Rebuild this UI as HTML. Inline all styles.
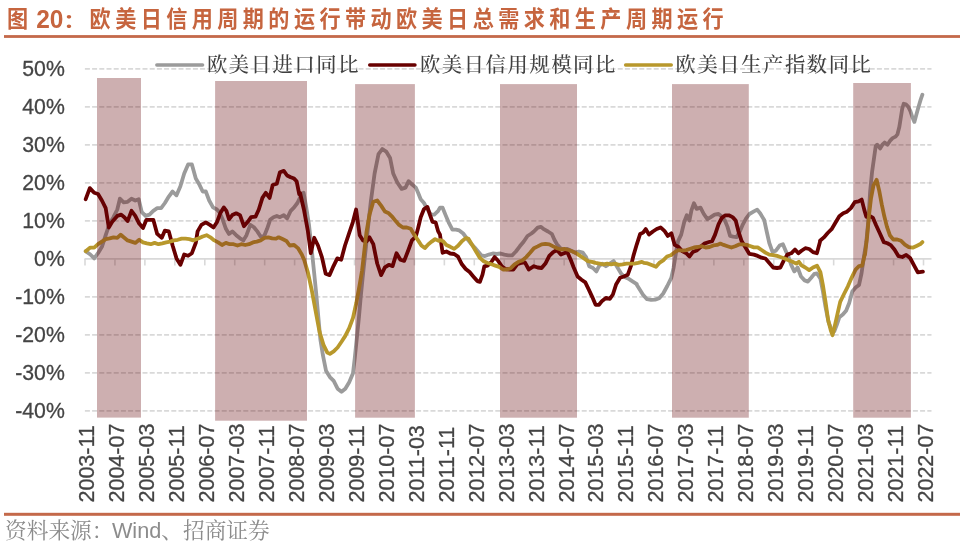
<!DOCTYPE html>
<html><head><meta charset="utf-8"><style>
html,body{margin:0;padding:0;background:#fff;}
body{width:966px;height:544px;overflow:hidden;position:relative;}
svg{position:absolute;left:0;top:0;}
.g{stroke:#d9d9d9;stroke-width:1.7;stroke-dasharray:5 2.2;stroke-dashoffset:-0.4;fill:none}
.ax{stroke:#d9d9d9;stroke-width:1.6;fill:none}
.yl{font-family:"Liberation Sans",Arial,sans-serif;font-size:22.6px;fill:#444;stroke:#444;stroke-width:0.3px;text-anchor:end}
.xl{font-family:"Liberation Sans",Arial,sans-serif;font-size:21.5px;fill:#444;stroke:#444;stroke-width:0.3px}
.bar{fill:rgb(99,5,8);fill-opacity:0.32}
.lgl{stroke-width:3.4;stroke-linecap:round}
.ln{fill:none;stroke-width:3.8;stroke-linejoin:round;stroke-linecap:round}
.lg{font-family:"Liberation Serif","Noto Serif CJK SC",serif;font-size:20.3px;font-weight:500;fill:#404040;letter-spacing:1.6px}
.ttl{font-family:"Liberation Sans","Noto Sans CJK SC",sans-serif;font-weight:bold;fill:#c6653f}
.ttc{}
.src{font-family:"Liberation Sans","Noto Serif CJK SC",serif;font-size:21.7px;fill:#8c8c8c}
</style></head><body>
<svg width="966" height="544" viewBox="0 0 966 544">
<text transform="translate(7,27) scale(0.92,1)" class="ttl ttc" style="font-size:23px">图</text>
<text transform="translate(36.2,27.7) scale(0.94,1)" class="ttl" style="font-size:26px">20</text>
<text transform="translate(63.2,28.25) scale(1,0.82)" class="ttl ttc" style="font-size:23px">：</text>
<text transform="translate(89.6,27) scale(0.92,1)" class="ttl ttc" style="font-size:23px;letter-spacing:4.78px">欧美日信用周期的运行带动欧美日总需求和生产周期运行</text>
<rect x="4" y="35.1" width="956" height="2.8" fill="#c4694a"/>
<line x1="84.5" y1="68.93" x2="931.5" y2="68.93" class="g"/>
<line x1="84.5" y1="106.93" x2="931.5" y2="106.93" class="g"/>
<line x1="84.5" y1="144.92" x2="931.5" y2="144.92" class="g"/>
<line x1="84.5" y1="182.91" x2="931.5" y2="182.91" class="g"/>
<line x1="84.5" y1="220.91" x2="931.5" y2="220.91" class="g"/>
<line x1="84.5" y1="296.89" x2="931.5" y2="296.89" class="g"/>
<line x1="84.5" y1="334.89" x2="931.5" y2="334.89" class="g"/>
<line x1="84.5" y1="372.88" x2="931.5" y2="372.88" class="g"/>
<line x1="84.5" y1="410.87" x2="931.5" y2="410.87" class="g"/>
<line x1="84.5" y1="258.90" x2="931.5" y2="258.90" class="ax"/>
<line x1="85.00" y1="258.90" x2="85.00" y2="265.40" class="ax"/>
<line x1="114.95" y1="258.90" x2="114.95" y2="265.40" class="ax"/>
<line x1="144.89" y1="258.90" x2="144.89" y2="265.40" class="ax"/>
<line x1="174.84" y1="258.90" x2="174.84" y2="265.40" class="ax"/>
<line x1="204.79" y1="258.90" x2="204.79" y2="265.40" class="ax"/>
<line x1="234.73" y1="258.90" x2="234.73" y2="265.40" class="ax"/>
<line x1="264.68" y1="258.90" x2="264.68" y2="265.40" class="ax"/>
<line x1="294.62" y1="258.90" x2="294.62" y2="265.40" class="ax"/>
<line x1="324.57" y1="258.90" x2="324.57" y2="265.40" class="ax"/>
<line x1="354.52" y1="258.90" x2="354.52" y2="265.40" class="ax"/>
<line x1="384.46" y1="258.90" x2="384.46" y2="265.40" class="ax"/>
<line x1="414.41" y1="258.90" x2="414.41" y2="265.40" class="ax"/>
<line x1="444.36" y1="258.90" x2="444.36" y2="265.40" class="ax"/>
<line x1="474.30" y1="258.90" x2="474.30" y2="265.40" class="ax"/>
<line x1="504.25" y1="258.90" x2="504.25" y2="265.40" class="ax"/>
<line x1="534.20" y1="258.90" x2="534.20" y2="265.40" class="ax"/>
<line x1="564.14" y1="258.90" x2="564.14" y2="265.40" class="ax"/>
<line x1="594.09" y1="258.90" x2="594.09" y2="265.40" class="ax"/>
<line x1="624.04" y1="258.90" x2="624.04" y2="265.40" class="ax"/>
<line x1="653.98" y1="258.90" x2="653.98" y2="265.40" class="ax"/>
<line x1="683.93" y1="258.90" x2="683.93" y2="265.40" class="ax"/>
<line x1="713.87" y1="258.90" x2="713.87" y2="265.40" class="ax"/>
<line x1="743.82" y1="258.90" x2="743.82" y2="265.40" class="ax"/>
<line x1="773.77" y1="258.90" x2="773.77" y2="265.40" class="ax"/>
<line x1="803.71" y1="258.90" x2="803.71" y2="265.40" class="ax"/>
<line x1="833.66" y1="258.90" x2="833.66" y2="265.40" class="ax"/>
<line x1="863.61" y1="258.90" x2="863.61" y2="265.40" class="ax"/>
<line x1="893.55" y1="258.90" x2="893.55" y2="265.40" class="ax"/>
<line x1="923.50" y1="258.90" x2="923.50" y2="265.40" class="ax"/>

<path d="M85.7,251.2 L90.3,254.5 L94.2,258.4 L98.0,253.2 L101.9,246.8 L105.7,235.2 L109.6,223.6 L113.5,217.2 L117.3,209.5 L119.9,198.7 L123.7,202.3 L127.6,201.8 L131.5,198.7 L135.3,200.5 L138.7,199.2 L141.8,212.1 L145.6,215.9 L149.5,214.6 L153.3,210.8 L157.2,208.2 L161.1,208.2 L164.9,203.0 L168.8,196.6 L172.6,191.5 L176.5,195.3 L180.4,186.3 L184.2,173.5 L188.1,164.4 L191.9,164.4 L195.8,178.6 L198.9,183.7 L202.7,191.5 L205.8,191.5 L209.2,200.5 L213.0,207.4 L216.9,209.5 L219.4,212.1 L222.8,219.8 L225.9,228.8 L229.0,233.9 L232.3,231.4 L236.2,235.2 L240.0,238.3 L243.4,240.4 L246.5,235.2 L250.3,224.9 L253.7,227.0 L257.3,231.4 L260.6,236.5 L264.0,236.5 L267.1,228.8 L270.1,219.8 L273.5,217.2 L276.8,215.9 L279.9,217.2 L283.8,215.1 L287.1,218.5 L290.7,210.8 L294.1,207.4 L297.4,203.0 L300.5,196.6 L303.6,192.8 L306.4,208.2 L309.0,224.9 L311.6,248.1 L314.4,275.4 L316.2,293.5 L318.3,316.6 L320.4,339.8 L322.9,355.2 L326.0,370.7 L329.9,377.1 L333.7,380.9 L337.6,388.7 L341.5,391.8 L345.3,388.7 L349.2,382.2 L353.0,373.2 L354.8,357.8 L356.9,337.2 L359.0,316.6 L360.8,296.0 L362.6,278.0 L366.9,237.8 L370.8,201.8 L374.6,173.5 L378.5,154.2 L382.3,149.0 L386.2,151.6 L390.1,158.0 L393.2,173.5 L397.3,182.5 L401.6,188.9 L405.5,187.6 L408.6,181.2 L411.9,184.3 L415.8,187.6 L418.1,192.8 L420.7,199.2 L424.0,203.0 L427.4,209.5 L431.0,214.6 L434.3,214.6 L438.2,210.8 L440.0,207.7 L442.6,207.7 L445.7,215.4 L449.0,223.2 L452.4,229.6 L456.0,229.6 L459.3,230.4 L463.2,233.5 L467.0,238.6 L470.9,243.7 L474.7,247.6 L478.1,251.5 L481.2,255.3 L485.0,256.1 L488.9,254.6 L492.8,253.5 L496.6,254.0 L500.5,253.5 L504.3,254.6 L508.2,255.3 L512.1,255.3 L515.9,251.5 L519.8,246.3 L523.6,241.7 L527.5,236.0 L531.4,233.5 L533.9,231.5 L537.7,227.6 L540.8,226.8 L544.2,229.4 L548.0,231.5 L551.9,234.0 L554.4,239.7 L557.0,244.3 L560.4,248.2 L563.5,249.5 L567.3,249.0 L571.2,250.8 L575.0,252.6 L578.9,251.5 L582.8,252.6 L586.1,257.2 L589.2,266.2 L593.0,268.0 L596.4,271.4 L599.0,266.2 L602.1,263.6 L605.9,266.2 L609.8,263.6 L613.6,261.1 L617.5,267.5 L621.4,273.9 L625.2,277.3 L629.1,279.1 L632.9,281.6 L636.8,284.2 L636.9,285.0 L643.0,294.7 L647.0,299.2 L651.1,299.8 L655.1,299.6 L659.2,298.2 L663.2,293.5 L667.3,286.0 L671.3,277.9 L673.5,268.1 L676.0,252.6 L678.1,241.1 L681.2,234.6 L684.3,221.8 L686.8,215.3 L689.4,220.5 L691.5,210.2 L694.0,203.2 L696.6,208.9 L700.5,207.6 L703.8,214.0 L707.4,219.2 L710.8,217.1 L714.6,214.6 L718.5,214.0 L721.8,216.6 L724.9,220.5 L727.5,226.9 L730.1,235.9 L733.2,236.7 L736.5,237.2 L739.8,231.5 L742.9,224.3 L746.0,218.7 L749.4,214.0 L753.9,211.4 L757.2,209.6 L760.3,213.5 L764.2,219.9 L766.7,231.5 L769.3,243.0 L772.6,252.1 L775.7,250.8 L779.6,245.6 L782.9,244.3 L786.0,251.5 L788.6,257.2 L791.2,264.9 L794.3,271.4 L797.6,267.5 L801.0,276.5 L804.6,280.4 L807.9,281.6 L811.2,277.8 L814.3,273.9 L817.0,273.5 L820.4,278.6 L822.9,291.5 L825.5,306.9 L828.6,322.3 L831.2,328.8 L834.3,331.4 L836.8,324.9 L839.4,317.2 L842.8,314.6 L846.1,310.8 L849.2,303.0 L852.3,291.5 L855.6,287.6 L859.0,285.0 L861.5,273.5 L864.1,255.4 L866.3,242.1 L868.4,220.0 L870.2,190.7 L872.0,172.6 L875.7,146.2 L877.2,144.7 L880.1,148.4 L882.4,144.7 L884.6,142.5 L887.5,144.7 L890.4,140.3 L892.6,138.1 L895.6,136.6 L897.4,134.4 L899.3,127.1 L900.7,118.2 L902.2,108.7 L903.7,103.8 L905.9,104.3 L908.1,106.5 L910.3,110.9 L912.5,117.5 L914.4,121.9 L916.2,115.3 L918.4,107.2 L920.6,99.9 L922.4,94.7" class="ln" stroke="#9b9b9b"/>
<path d="M85.7,199.2 L89.8,188.1 L94.2,192.8 L98.0,194.0 L101.9,200.5 L105.7,208.2 L108.8,227.5 L112.2,221.8 L117.3,215.9 L121.2,214.6 L124.3,217.2 L127.6,221.1 L131.5,210.8 L135.3,215.9 L139.2,223.6 L143.0,228.0 L146.4,219.8 L153.3,219.8 L157.2,233.9 L161.8,237.8 L164.9,230.6 L168.8,231.4 L172.6,245.5 L176.5,258.4 L180.4,264.8 L184.2,254.5 L188.1,255.8 L191.9,253.2 L195.8,242.9 L197.6,231.4 L201.4,224.9 L205.8,222.3 L209.9,224.9 L213.5,227.5 L216.9,222.3 L220.2,213.3 L223.8,207.4 L226.4,210.8 L229.0,219.3 L232.3,215.1 L236.2,213.3 L240.0,215.1 L243.9,226.2 L247.8,221.8 L251.1,217.2 L255.5,216.7 L258.8,209.5 L262.4,197.9 L265.8,192.8 L269.6,197.9 L272.7,185.0 L276.8,183.7 L279.9,172.2 L283.8,170.9 L287.1,175.5 L290.7,177.3 L294.1,178.6 L296.6,181.2 L299.2,194.0 L300.0,192.8 L303.9,209.5 L307.7,230.1 L310.8,253.2 L314.2,237.8 L318.0,245.5 L321.9,257.1 L325.7,273.8 L329.6,275.1 L333.5,266.1 L337.3,258.4 L341.2,259.7 L345.0,245.5 L348.9,233.9 L352.8,222.3 L356.1,209.5 L359.7,235.2 L363.0,240.4 L366.4,241.6 L369.5,237.3 L373.3,244.2 L377.2,263.5 L381.1,275.1 L384.9,267.4 L388.8,264.8 L392.6,266.1 L396.5,253.2 L400.4,259.7 L404.2,260.9 L408.1,250.7 L411.9,240.4 L415.8,236.5 L417.6,230.1 L420.7,217.2 L424.0,209.0 L427.4,206.9 L429.9,214.6 L432.5,221.8 L435.6,222.3 L438.2,231.4 L440.0,234.7 L442.6,252.8 L446.4,251.5 L450.3,253.5 L454.2,254.0 L458.0,256.6 L461.9,264.3 L465.7,269.0 L469.6,272.1 L473.5,276.7 L477.3,281.1 L479.9,281.8 L482.5,274.6 L484.3,266.4 L487.6,265.6 L491.5,261.8 L494.6,257.1 L497.9,260.5 L501.8,266.4 L505.6,269.0 L509.5,269.5 L513.3,269.5 L517.2,264.3 L521.1,263.0 L524.9,262.3 L528.8,269.5 L533.9,266.2 L537.7,267.5 L541.6,268.0 L545.4,263.6 L549.3,255.9 L553.2,252.1 L557.0,250.0 L560.9,254.6 L564.0,253.3 L567.3,252.1 L570.7,259.8 L573.7,267.5 L577.6,276.5 L581.5,279.8 L585.3,282.4 L588.7,289.4 L592.3,297.1 L595.6,304.8 L599.0,304.8 L602.1,300.9 L605.9,297.9 L609.8,298.9 L612.9,294.5 L616.2,284.2 L620.1,277.8 L623.9,276.5 L627.8,274.7 L630.9,266.2 L633.4,255.9 L636.8,244.3 L640.1,234.0 L643.1,232.6 L645.7,229.0 L649.0,234.6 L652.9,231.5 L656.7,229.0 L660.6,227.4 L664.4,230.8 L667.8,235.9 L671.4,233.3 L674.7,244.9 L678.6,247.0 L682.5,251.4 L686.3,253.2 L689.4,256.5 L692.8,252.1 L696.6,250.6 L700.5,247.0 L704.3,243.6 L708.2,242.3 L712.1,241.1 L715.1,234.6 L718.5,224.3 L721.8,217.9 L725.4,215.3 L728.8,215.3 L732.6,217.1 L735.7,220.5 L738.3,230.8 L741.6,241.1 L745.5,247.5 L749.4,253.9 L753.9,254.6 L757.7,255.9 L761.6,257.7 L765.4,258.5 L769.3,262.9 L773.2,267.5 L777.0,268.0 L780.4,267.5 L783.5,261.1 L787.3,254.6 L791.2,253.3 L795.0,249.5 L798.4,253.3 L801.5,250.8 L805.3,248.2 L809.2,249.0 L813.0,252.1 L816.9,253.3 L820.0,241.8 L820.0,240.8 L823.9,237.4 L827.7,233.0 L831.6,229.2 L835.4,222.8 L839.3,216.3 L843.2,213.2 L847.0,211.7 L850.9,208.1 L854.7,202.2 L858.6,201.4 L861.7,199.6 L864.3,209.9 L866.3,216.8 L870.2,216.3 L872.8,217.6 L876.1,225.3 L879.7,233.0 L883.8,242.1 L887.4,243.3 L890.8,245.1 L894.6,249.8 L898.5,256.2 L902.3,257.0 L906.2,254.9 L910.1,258.0 L913.9,265.2 L917.8,272.4 L922.9,271.6" class="ln" stroke="#680000"/>
<path d="M85.7,251.2 L90.3,247.6 L94.2,247.6 L98.0,244.2 L101.9,241.6 L105.7,239.1 L109.6,238.3 L113.5,237.3 L117.3,237.8 L120.7,234.7 L123.7,237.3 L127.6,240.4 L131.5,241.6 L135.3,242.9 L139.2,239.8 L143.0,242.4 L146.9,243.4 L150.8,244.2 L154.6,242.9 L158.5,244.2 L162.3,243.4 L166.2,242.4 L170.1,241.6 L173.9,240.4 L177.8,239.8 L181.6,238.6 L185.5,238.6 L189.4,239.1 L193.2,240.4 L198.9,238.3 L202.7,236.5 L206.6,235.2 L210.4,237.3 L214.3,240.4 L218.2,242.4 L222.0,245.0 L225.9,242.9 L229.7,244.2 L233.6,244.2 L237.5,245.5 L241.3,244.2 L245.2,245.0 L249.0,244.2 L252.9,242.4 L256.8,241.6 L260.6,240.4 L264.5,237.8 L268.3,237.3 L272.2,238.3 L276.1,238.6 L278.6,237.3 L282.5,239.1 L286.4,240.9 L289.7,245.5 L294.1,245.0 L297.9,248.1 L301.8,254.5 L304.2,260.0 L308.0,272.9 L311.9,290.9 L315.7,311.5 L319.6,332.1 L323.5,344.9 L327.3,352.6 L329.9,353.9 L333.7,351.4 L337.6,347.5 L341.5,341.8 L345.3,335.9 L349.2,328.2 L353.0,317.9 L356.4,302.5 L359.5,285.7 L362.1,270.3 L366.4,232.6 L369.5,214.6 L373.3,201.8 L377.2,200.5 L381.1,205.6 L384.9,211.5 L388.8,213.3 L392.6,217.2 L395.7,221.1 L399.1,224.9 L402.9,227.5 L406.8,227.5 L410.7,228.8 L414.5,235.2 L418.1,240.4 L421.4,245.5 L424.8,248.1 L428.4,244.2 L431.7,241.6 L435.1,239.1 L438.7,240.9 L440.0,239.9 L443.1,241.2 L446.4,245.0 L450.3,246.8 L454.2,248.9 L458.0,245.8 L461.9,241.2 L465.7,238.1 L468.3,238.6 L472.2,245.0 L476.0,251.5 L479.9,257.9 L483.7,261.2 L487.6,263.0 L491.5,264.3 L495.3,265.6 L499.2,266.9 L503.0,269.5 L506.9,269.5 L510.8,268.2 L514.6,264.3 L518.5,261.8 L522.3,260.5 L526.2,257.1 L530.1,252.8 L533.9,248.2 L537.7,246.4 L541.6,244.3 L545.4,243.8 L549.3,244.3 L553.2,246.4 L557.0,248.2 L560.9,249.5 L564.7,249.0 L568.6,250.0 L572.5,251.5 L576.3,253.3 L580.2,255.9 L584.0,258.5 L587.9,261.1 L591.8,261.8 L595.6,262.9 L599.5,263.6 L603.3,264.4 L607.2,263.6 L611.1,264.4 L614.9,263.6 L618.8,264.9 L622.6,264.4 L626.5,263.6 L630.4,263.6 L634.2,263.6 L638.1,262.9 L641.9,261.8 L643.9,262.9 L647.7,263.4 L651.6,265.0 L656.0,266.8 L659.3,262.9 L663.2,260.4 L667.0,256.5 L670.9,255.2 L674.7,252.1 L678.6,250.1 L682.5,250.6 L686.3,250.1 L690.2,248.8 L694.0,247.5 L697.9,247.0 L701.8,246.2 L705.6,247.5 L709.5,247.0 L713.3,245.4 L717.2,244.9 L720.3,243.6 L723.6,244.9 L727.5,246.2 L731.4,247.5 L735.2,246.2 L739.1,244.4 L742.9,244.4 L746.8,244.9 L750.7,246.2 L753.9,247.4 L757.7,247.4 L761.6,250.0 L765.4,252.6 L769.3,254.6 L773.2,255.1 L777.0,255.9 L780.9,257.2 L784.7,258.5 L788.6,260.3 L792.5,261.8 L796.3,263.6 L798.9,261.8 L801.5,265.4 L805.3,267.5 L809.2,270.1 L813.0,267.5 L817.0,265.7 L820.4,272.2 L822.9,285.0 L825.5,301.8 L828.1,319.8 L830.7,330.1 L832.5,335.2 L835.0,324.9 L837.6,313.3 L840.2,301.8 L844.0,294.0 L847.9,286.3 L851.8,277.3 L855.6,269.6 L859.0,266.2 L862.1,265.7 L864.6,255.4 L865.0,254.9 L867.1,236.9 L868.9,216.3 L871.0,198.3 L873.5,185.4 L876.6,179.8 L879.2,190.6 L881.8,204.7 L884.3,216.3 L886.9,226.6 L890.0,235.6 L893.3,239.5 L897.2,239.5 L901.1,240.8 L904.9,244.6 L908.8,247.2 L912.6,247.7 L916.5,245.9 L920.4,244.1 L922.4,242.1" class="ln" stroke="#b8982c"/>
<rect x="97.0" y="78.0" width="44.0" height="339.6" class="bar"/>
<rect x="215.1" y="81.0" width="91.9" height="339.7" class="bar"/>
<rect x="355.1" y="84.1" width="59.8" height="333.6" class="bar"/>
<rect x="500.0" y="84.1" width="77.0" height="333.6" class="bar"/>
<rect x="672.0" y="84.1" width="76.8" height="333.6" class="bar"/>
<rect x="853.2" y="83.0" width="57.7" height="334.7" class="bar"/>

<line x1="156.8" y1="65" x2="202.6" y2="65" class="lgl" stroke="#9b9b9b"/>
<text x="206.9" y="71.8" class="lg">欧美日进口同比</text>
<line x1="369.7" y1="65" x2="415" y2="65" class="lgl" stroke="#680000"/>
<text x="419.9" y="71.8" class="lg">欧美日信用规模同比</text>
<line x1="625.6" y1="65" x2="671.3" y2="65" class="lgl" stroke="#b8982c"/>
<text x="675.5" y="71.8" class="lg">欧美日生产指数同比</text>
<text transform="translate(64.8,76.03) scale(0.94,1)" class="yl">50%</text>
<text transform="translate(64.8,114.03) scale(0.94,1)" class="yl">40%</text>
<text transform="translate(64.8,152.02) scale(0.94,1)" class="yl">30%</text>
<text transform="translate(64.8,190.01) scale(0.94,1)" class="yl">20%</text>
<text transform="translate(64.8,228.01) scale(0.94,1)" class="yl">10%</text>
<text transform="translate(64.8,266.00) scale(0.94,1)" class="yl">0%</text>
<text transform="translate(64.8,303.99) scale(0.94,1)" class="yl">-10%</text>
<text transform="translate(64.8,341.99) scale(0.94,1)" class="yl">-20%</text>
<text transform="translate(64.8,379.98) scale(0.94,1)" class="yl">-30%</text>
<text transform="translate(64.8,417.97) scale(0.94,1)" class="yl">-40%</text>
<text transform="translate(94.40,502.5) rotate(-90)" class="xl">2003-11</text>
<text transform="translate(124.35,502.5) rotate(-90)" class="xl">2004-07</text>
<text transform="translate(154.29,502.5) rotate(-90)" class="xl">2005-03</text>
<text transform="translate(184.24,502.5) rotate(-90)" class="xl">2005-11</text>
<text transform="translate(214.19,502.5) rotate(-90)" class="xl">2006-07</text>
<text transform="translate(244.13,502.5) rotate(-90)" class="xl">2007-03</text>
<text transform="translate(274.08,502.5) rotate(-90)" class="xl">2007-11</text>
<text transform="translate(304.02,502.5) rotate(-90)" class="xl">2008-07</text>
<text transform="translate(333.97,502.5) rotate(-90)" class="xl">2009-03</text>
<text transform="translate(363.92,502.5) rotate(-90)" class="xl">2009-11</text>
<text transform="translate(393.86,502.5) rotate(-90)" class="xl">2010-07</text>
<text transform="translate(423.81,502.5) rotate(-90)" class="xl">2011-03</text>
<text transform="translate(453.76,502.5) rotate(-90)" class="xl">2011-11</text>
<text transform="translate(483.70,502.5) rotate(-90)" class="xl">2012-07</text>
<text transform="translate(513.65,502.5) rotate(-90)" class="xl">2013-03</text>
<text transform="translate(543.60,502.5) rotate(-90)" class="xl">2013-11</text>
<text transform="translate(573.54,502.5) rotate(-90)" class="xl">2014-07</text>
<text transform="translate(603.49,502.5) rotate(-90)" class="xl">2015-03</text>
<text transform="translate(633.44,502.5) rotate(-90)" class="xl">2015-11</text>
<text transform="translate(663.38,502.5) rotate(-90)" class="xl">2016-07</text>
<text transform="translate(693.33,502.5) rotate(-90)" class="xl">2017-03</text>
<text transform="translate(723.27,502.5) rotate(-90)" class="xl">2017-11</text>
<text transform="translate(753.22,502.5) rotate(-90)" class="xl">2018-07</text>
<text transform="translate(783.17,502.5) rotate(-90)" class="xl">2019-03</text>
<text transform="translate(813.11,502.5) rotate(-90)" class="xl">2019-11</text>
<text transform="translate(843.06,502.5) rotate(-90)" class="xl">2020-07</text>
<text transform="translate(873.01,502.5) rotate(-90)" class="xl">2021-03</text>
<text transform="translate(902.95,502.5) rotate(-90)" class="xl">2021-11</text>
<text transform="translate(932.90,502.5) rotate(-90)" class="xl">2022-07</text>

<rect x="4" y="512.8" width="956" height="3" fill="#c4694a"/>
<text x="5" y="537.5" class="src">资料来源：<tspan x="111.9">Wind、招商证券</tspan></text>
</svg>
</body></html>
